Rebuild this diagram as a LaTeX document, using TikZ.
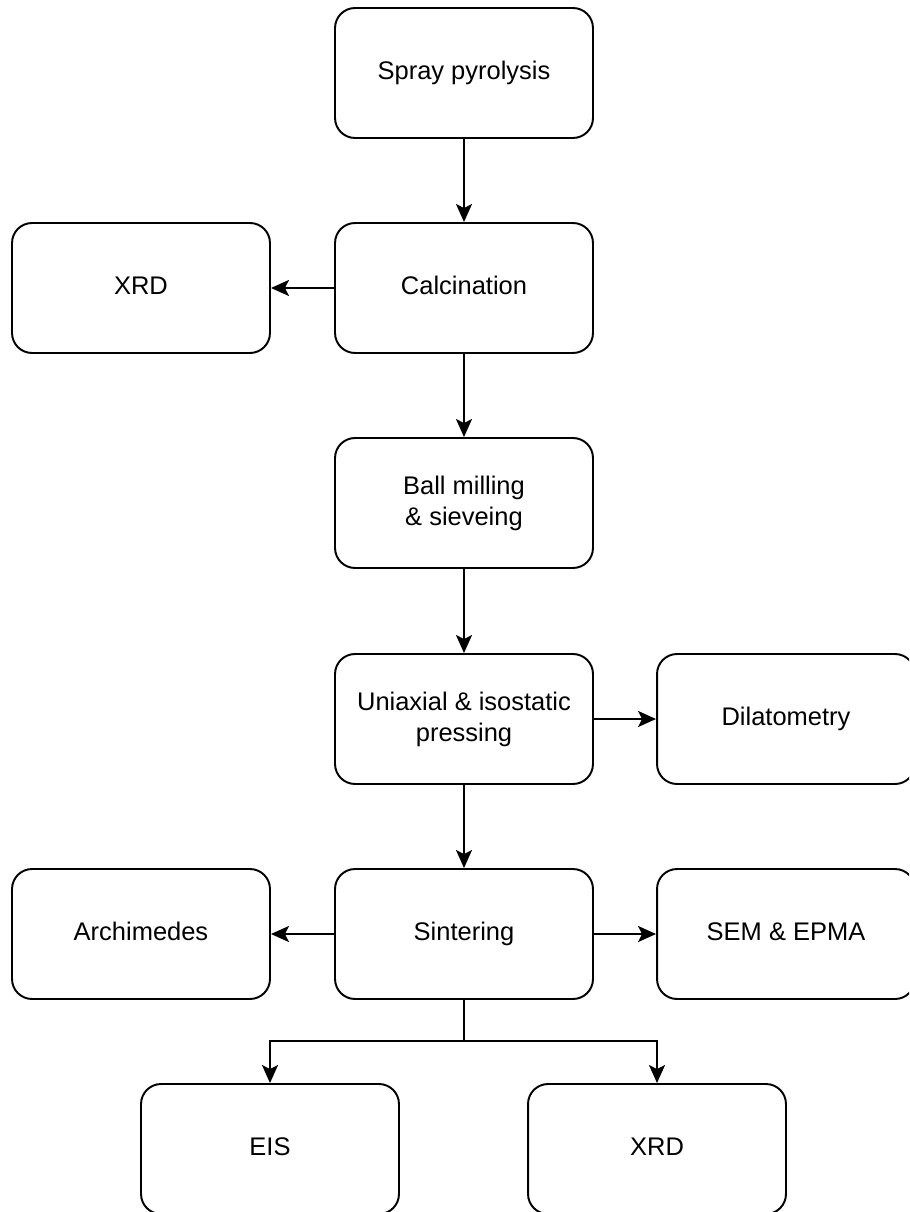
\documentclass[tikz,border=0pt]{standalone}
\usepackage{fontspec}
\setmainfont{Liberation Sans}
\usetikzlibrary{arrows.meta}
\begin{document}
\begin{tikzpicture}[x=0.02cm,y=-0.02cm,
	box/.style={draw,rounded corners=0.4cm,line width=1.1pt,minimum width=5.16cm,minimum height=2.6cm,align=center,inner sep=0pt,font=\fontsize{14.5}{17.6}\selectfont},
	arr/.style={-{Stealth[length=0.36cm,width=0.32cm,inset=0.08cm]},line width=1.1pt}]
		\useasboundingbox (0,0) rectangle (909,1212);
		\clip (0,0) rectangle (909,1212);
		\node[box] (spray) at (464,73) {Spray pyrolysis\strut};
		\node[box] (calc) at (464,288) {Calcination\strut};
		\node[box] (xrda) at (141,288) {XRD\strut};
		\node[box] (ball) at (464,503) {Ball milling\\\& sieveing};
		\node[box] (press) at (464,719) {Uniaxial \& isostatic\\pressing};
		\node[box] (dil) at (786,719) {Dilatometry\strut};
		\node[box] (sint) at (464,934) {Sintering\strut};
		\node[box] (arch) at (141,934) {Archimedes\strut};
		\node[box] (sem) at (786,934) {SEM \& EPMA\strut};
		\node[box] (eis) at (270,1149) {EIS\strut};
		\node[box] (xrdb) at (657,1149) {XRD\strut};
		\coordinate (split) at (464,1041);
		\draw[arr] (spray) -- (calc);
		\draw[arr] (calc) -- (xrda);
		\draw[arr] (calc) -- (ball);
		\draw[arr] (ball) -- (press);
		\draw[arr] (press) -- (dil);
		\draw[arr] (press) -- (sint);
		\draw[arr] (sint) -- (arch);
		\draw[arr] (sint) -- (sem);
		\draw[line width=1.1pt] (sint) -- (split);
		\draw[arr] (split) -| (eis);
		\draw[arr] (split) -| (xrdb);
	\end{tikzpicture}
\end{document}
